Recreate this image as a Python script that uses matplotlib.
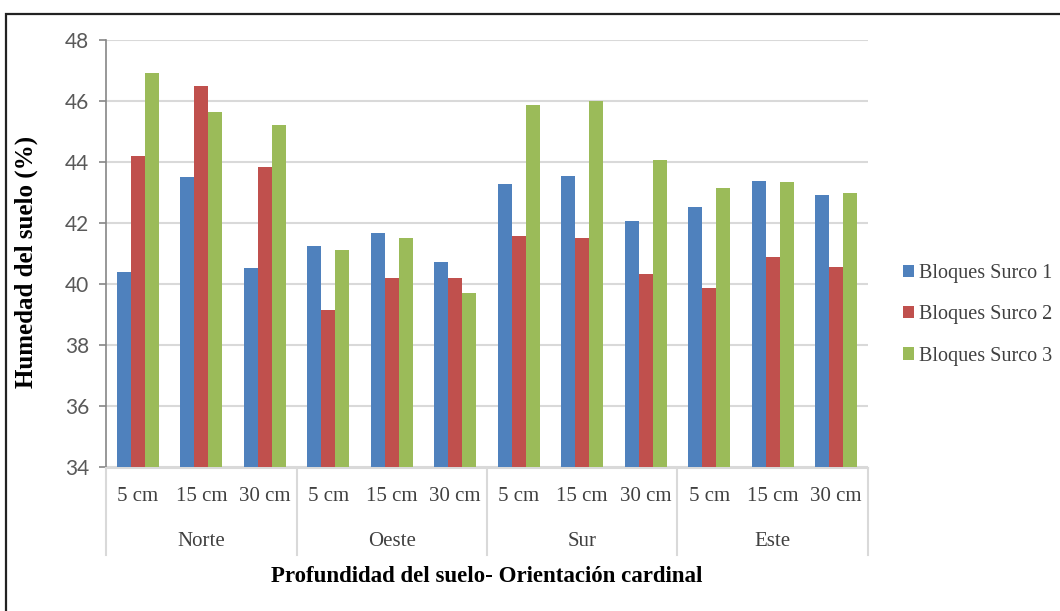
import matplotlib.pyplot as plt
from matplotlib.patches import Rectangle
import numpy as np

# data
orientaciones = ['Norte', 'Oeste', 'Sur', 'Este']
profundidades = ['5 cm', '15 cm', '30 cm']
series_names = ['Bloques Surco 1', 'Bloques Surco 2', 'Bloques Surco 3']
surco1 = [40.39, 43.52, 40.54, 41.26, 41.68, 40.73, 43.28, 43.53, 42.06, 42.52, 43.39, 42.91]
surco2 = [44.20, 46.48, 43.84, 39.15, 40.19, 40.22, 41.59, 41.52, 40.33, 39.88, 40.88, 40.57]
surco3 = [46.93, 45.63, 45.20, 41.13, 41.51, 39.70, 45.87, 46.00, 44.06, 43.14, 43.34, 42.98]
colors = ['#4F81BD', '#C0504D', '#9BBB59']
yticks = [34, 36, 38, 40, 42, 44, 46, 48]

W, H = 1060, 611
fig = plt.figure(figsize=(W / 100, H / 100), dpi=100)

# plot area in pixels: left 106, right 868, top 40, bottom 467.5
ax = fig.add_axes([106 / W, 1 - 467.5 / H, (868 - 106) / W, (467.5 - 40) / H])

n = len(surco1)
x = np.arange(n)
bw = 0.22
for i, (vals, c, name) in enumerate(zip([surco1, surco2, surco3], colors, series_names)):
    ax.bar(x + (i - 1) * bw, np.array(vals) - 34, bottom=34, width=bw, color=c,
           label=name, zorder=3)

ax.set_xlim(-0.5, n - 0.5)
ax.set_ylim(34, 48)
ax.set_yticks(yticks)
ax.set_yticklabels([str(v) for v in yticks], fontfamily='Lato', fontsize=15, color='#595959')
ax.yaxis.grid(True, color='#D9D9D9', linewidth=1.5, zorder=0)
ax.set_axisbelow(True)

for s in ['top', 'right']:
    ax.spines[s].set_visible(False)
ax.spines['left'].set_color('#868686')
ax.spines['left'].set_linewidth(1.2)
ax.spines['bottom'].set_color('#D9D9D9')
ax.spines['bottom'].set_linewidth(1.5)
ax.tick_params(axis='y', length=5, color='#868686', width=1.2, pad=7)

labels = profundidades * len(orientaciones)
ax.set_xticks(x)
ax.set_xticklabels(labels, fontfamily='Liberation Serif', fontsize=15, color='#404040')
ax.tick_params(axis='x', length=0, pad=14)

# group separators and group names
sep_bottom = (467.5 - 555) / 427.5
for k in range(len(orientaciones) + 1):
    xs = k * 3 - 0.5
    ax.plot([xs, xs], [0, sep_bottom], transform=ax.get_xaxis_transform(),
            color='#D9D9D9', linewidth=1.5, clip_on=False)
for k, name in enumerate(orientaciones):
    ax.text(k * 3 + 1, (467.5 - 541) / 427.5, name, transform=ax.get_xaxis_transform(),
            ha='center', va='center', fontfamily='Liberation Serif', fontsize=15,
            color='#404040')

ax.text(0.5, (467.5 - 577) / 427.5, 'Profundidad del suelo- Orientación cardinal',
        transform=ax.transAxes, ha='center', va='center', fontfamily='Liberation Serif',
        fontweight='bold', fontsize=16.5, color='black')
fig.text(26 / W, 1 - 262 / H, 'Humedad del suelo (%)', rotation=90, ha='center', va='center',
         fontfamily='Liberation Serif', fontweight='bold', fontsize=18, color='black')

leg = ax.legend(loc='center left', bbox_to_anchor=((903 - 106) / 762, (467.5 - 315) / 427.5),
                frameon=False, borderaxespad=0, borderpad=0, handlelength=0.55,
                handleheight=0.55, handletextpad=0.25, labelspacing=1.1,
                prop={'family': 'Liberation Serif', 'size': 14.5})
for t in leg.get_texts():
    t.set_color('#404040')

# outer frame
fig.patches.append(Rectangle((6 / W, -0.1), 1.2, 1.1 - 14 / H, transform=fig.transFigure,
                             fill=False, edgecolor='#222222', linewidth=1.6))

fig.savefig('out.png', dpi=100)
